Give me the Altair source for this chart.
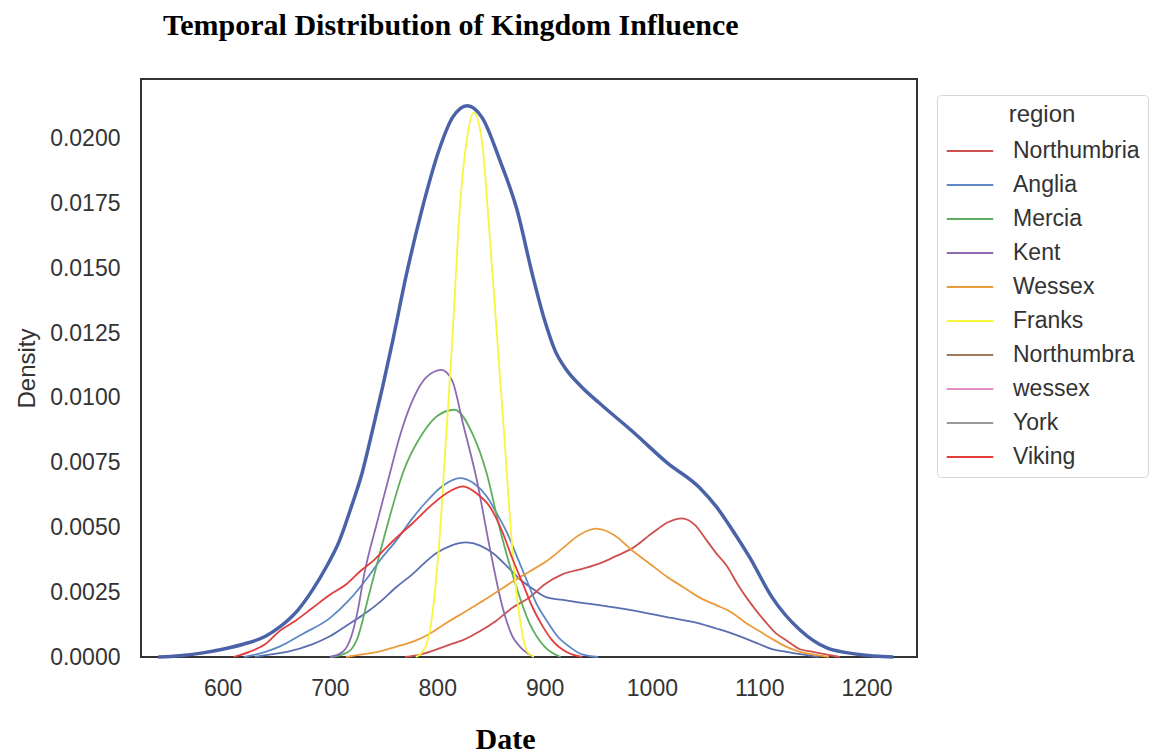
import altair as alt
import pandas as pd

# ---------------- data ----------------
regions = ["Northumbria", "Anglia", "Mercia", "Kent", "Wessex",
           "Franks", "Northumbra", "wessex", "York", "Viking"]
region_colors = ["#cf5050", "#5d87c5", "#5fae60", "#8c6bb1", "#ec9b3b",
                 "#f7f53c", "#a0785a", "#e38fc4", "#9a9a9a", "#e23c3c"]

# overall density (thick line)
overall_date = [540, 560, 580, 600, 620, 640, 653, 670, 684, 697, 709, 720, 730, 740,
                749, 758, 771, 786, 802, 814, 828, 842, 858, 874, 889, 900, 910, 920,
                935, 951, 982, 1014, 1044, 1060, 1075, 1091, 1112, 1138, 1163, 1193, 1225]
overall_density = [0.0, 0.00005, 0.00015, 0.0003, 0.0005, 0.0008, 0.00115, 0.0018, 0.0026,
                   0.0035, 0.0045, 0.0058, 0.0071, 0.0088, 0.0104, 0.0121, 0.0147, 0.0173,
                   0.0196, 0.0208, 0.02127, 0.0208, 0.0192, 0.0173, 0.0147, 0.0130, 0.0118,
                   0.0111, 0.0104, 0.0098, 0.0087, 0.0075, 0.00655, 0.0058, 0.0049,
                   0.00385, 0.0023, 0.00104, 0.00035, 0.0001, 0.0]

# secondary thin blue curve with long right tail
secondary_date = [630, 645, 660, 684, 700, 715, 730, 746, 762, 777, 790, 799, 813, 827,
                  840, 852, 865, 877, 890, 902, 917, 933, 951, 982, 1014, 1044, 1060,
                  1075, 1088, 1100, 1112, 1125, 1140, 1155]
secondary_density = [0.0, 0.0001, 0.0002, 0.0005, 0.0008, 0.0012, 0.0016, 0.0021, 0.0027,
                     0.0032, 0.0037, 0.0040, 0.0043, 0.00442, 0.0043, 0.0040, 0.0035,
                     0.0030, 0.0026, 0.0023, 0.0022, 0.0021, 0.0020, 0.0018, 0.00154,
                     0.0013, 0.0011, 0.0009, 0.0007, 0.0005, 0.0003, 0.0002, 0.0001, 0.0]

northumbria_date = [770, 785, 800, 813, 824, 840, 855, 870, 886, 900, 917, 935, 951, 967,
                    982, 1001, 1015, 1028, 1040, 1051, 1060, 1070, 1080, 1088, 1097, 1107,
                    1116, 1125, 1138, 1150, 1162, 1175]
northumbria_density = [0.0, 0.0001, 0.0003, 0.0005, 0.00065, 0.0010, 0.0014, 0.0019, 0.0023,
                       0.0028, 0.0032, 0.0034, 0.0036, 0.0039, 0.0042, 0.0048, 0.0052,
                       0.00535, 0.0051, 0.0045, 0.0040, 0.0035, 0.0028, 0.0023, 0.0018,
                       0.0013, 0.0009, 0.00065, 0.0003, 0.0002, 0.0001, 0.0]

anglia_date = [620, 640, 653, 675, 700, 718, 734, 748, 762, 776, 790, 805, 821, 834, 846,
               856, 865, 874, 883, 892, 902, 912, 923, 935, 950]
anglia_density = [0.0, 0.0002, 0.0004, 0.0009, 0.0015, 0.0022, 0.0030, 0.0038, 0.0045,
                  0.0053, 0.0060, 0.0066, 0.0069, 0.0067, 0.0062, 0.0055, 0.0048, 0.0039,
                  0.0030, 0.0021, 0.0014, 0.0008, 0.0004, 0.0001, 0.0]

mercia_date = [700, 712, 720, 725, 737, 753, 768, 786, 800, 816, 833, 846, 858, 870, 886,
               900, 915]
mercia_density = [0.0, 0.0001, 0.0003, 0.00065, 0.0025, 0.0050, 0.0071, 0.0086, 0.0093,
                  0.00954, 0.0086, 0.0071, 0.0050, 0.0032, 0.0013, 0.0004, 0.0]

kent_date = [700, 712, 720, 726, 732, 744, 756, 765, 774, 790, 804, 814, 824, 837, 849,
             861, 870, 877, 890]
kent_density = [0.0, 0.0002, 0.0008, 0.0018, 0.0032, 0.0052, 0.0071, 0.0085, 0.0096,
                0.0108, 0.01108, 0.01065, 0.0090, 0.0068, 0.0042, 0.0019, 0.0008, 0.0004, 0.0]

wessex_date = [715, 730, 745, 762, 778, 793, 808, 824, 840, 855, 870, 886, 902, 917, 932,
               948, 965, 982, 998, 1014, 1029, 1044, 1060, 1075, 1088, 1100, 1112, 1125,
               1138, 1150, 1165]
wessex_density = [0.0, 0.0001, 0.0002, 0.0004, 0.0006, 0.0009, 0.0013, 0.0017, 0.0021,
                  0.0025, 0.0029, 0.0033, 0.0037, 0.0042, 0.0047, 0.00495, 0.0047, 0.0041,
                  0.0036, 0.0031, 0.0027, 0.0023, 0.0020, 0.0017, 0.0013, 0.0010, 0.0007,
                  0.0004, 0.0002, 0.0001, 0.0]

franks_date = [780, 788, 795, 802, 808, 814, 821, 827, 834, 842, 847, 856, 862, 867, 873,
               878, 884, 890]
franks_density = [0.0, 0.0003, 0.0015, 0.0045, 0.0083, 0.0122, 0.0173, 0.0198, 0.0210,
                  0.0198, 0.0173, 0.0122, 0.0088, 0.0058, 0.0028, 0.0012, 0.0002, 0.0]

viking_date = [610, 625, 640, 653, 668, 684, 700, 715, 728, 740, 752, 762, 778, 793, 808,
               824, 837, 849, 860, 870, 880, 889, 898, 907, 920, 935]
viking_density = [0.0, 0.0002, 0.0005, 0.0010, 0.0014, 0.0019, 0.0024, 0.0028, 0.0033,
                  0.0037, 0.0042, 0.0046, 0.0052, 0.0058, 0.0063, 0.00658, 0.0063, 0.0058,
                  0.0049, 0.0038, 0.0028, 0.0019, 0.0012, 0.00065, 0.0002, 0.0]

x_ticks = [600, 700, 800, 900, 1000, 1100, 1200]
y_ticks = [0.0, 0.0025, 0.005, 0.0075, 0.01, 0.0125, 0.015, 0.0175, 0.02]

# ---------------- tables ----------------
series = [
    ("Northumbria", northumbria_date, northumbria_density),
    ("Anglia", anglia_date, anglia_density),
    ("Mercia", mercia_date, mercia_density),
    ("Kent", kent_date, kent_density),
    ("Wessex", wessex_date, wessex_density),
    ("Franks", franks_date, franks_density),
    ("Viking", viking_date, viking_density),
]
rows = []
for name, ds, vs in series:
    for d, v in zip(ds, vs):
        rows.append({"date": d, "density": v, "region": name})
hue_df = pd.DataFrame(rows)
overall_df = pd.DataFrame({"date": overall_date, "density": overall_density})
secondary_df = pd.DataFrame({"date": secondary_date, "density": secondary_density})

SANS = "Liberation Sans"
SERIF = "Liberation Serif"

x_enc = alt.X(
    "date:Q",
    scale=alt.Scale(domain=[524, 1247], nice=False, zero=False),
    axis=alt.Axis(
        values=x_ticks, format="d", ticks=False, domain=False, grid=False,
        labelFont=SANS, labelFontSize=23, labelColor="#333333", labelPadding=20,
        labelFlush=False, labelOverlap=False,
        title="Date", titleFont=SERIF, titleFontSize=30, titleFontWeight="bold",
        titleColor="#000000", titleX=364, titleY=91, titleBaseline="alphabetic",
        titleAlign="center",
    ),
)
y_enc = alt.Y(
    "density:Q",
    scale=alt.Scale(domain=[0, 0.0223], nice=False, zero=True),
    axis=alt.Axis(
        values=y_ticks, format=".4f", ticks=False, domain=False, grid=False,
        labelFont=SANS, labelFontSize=23, labelColor="#333333", labelPadding=21,
        title="Density", titleFont=SANS, titleFontSize=24, titleFontWeight="normal",
        titleColor="#333333", titlePadding=10,
    ),
)

overall = alt.Chart(overall_df).mark_line(
    color="#4a62a8", strokeWidth=3.5, interpolate="monotone"
).encode(x=x_enc, y=y_enc)

secondary = alt.Chart(secondary_df).mark_line(
    color="#5a6db0", strokeWidth=1.8, interpolate="monotone"
).encode(x=x_enc, y=y_enc)

hue = alt.Chart(hue_df).mark_line(strokeWidth=1.8, interpolate="monotone").encode(
    x=x_enc,
    y=y_enc,
    color=alt.Color(
        "region:N",
        scale=alt.Scale(domain=regions, range=region_colors),
        sort=regions,
        legend=alt.Legend(
            title="region", orient="none", legendX=796, legendY=16,
            symbolType="M-0.95,0H2.15", symbolSize=900, symbolStrokeWidth=2,
            labelFont=SANS, labelFontSize=23, labelColor="#333333", labelOffset=36,
            titleFont=SANS, titleFontSize=24, titleFontWeight="normal",
            titleColor="#333333", titleAnchor="middle", titlePadding=8,
            rowPadding=6, padding=8, strokeColor="#d6d6d6", fillColor="#ffffff",
            cornerRadius=4, values=regions,
        ),
    ),
)

chart = (
    alt.layer(overall, secondary, hue)
    .properties(
        width=776,
        height=578,
        title=alt.TitleParams(
            text="Temporal Distribution of Kingdom Influence",
            font=SERIF, fontSize=30, fontWeight="bold", color="#000000",
            anchor="start", frame="group", dx=22, offset=14, baseline="alphabetic",
        ),
        autosize=alt.AutoSizeParams(type="none"),
        padding={"left": 141, "top": 79, "right": 235, "bottom": 96},
    )
    .configure(background="#ffffff")
    .configure_view(stroke="#333333", strokeWidth=2)
)

chart.save("out.html", embed_options={"renderer": "svg", "actions": False})
